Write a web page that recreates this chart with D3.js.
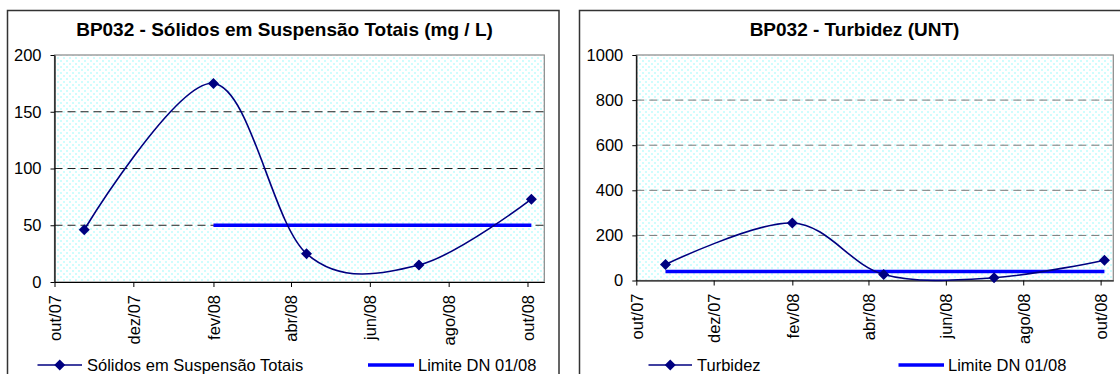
<!DOCTYPE html>
<html>
<head>
<meta charset="utf-8">
<script src="https://cdn.jsdelivr.net/npm/d3@7"></script>
<style>
  html, body { margin: 0; padding: 0; background: #fff; }
  svg { display: block; font-family: "Liberation Sans", Arial, sans-serif; }
</style>
</head>
<body>
<svg id="chart" width="1120" height="374"></svg>
<script>
// ---- data ----
const tickLabels = ["out/07", "dez/07", "fev/08", "abr/08", "jun/08", "ago/08", "out/08"];
const tickDates = ["2007-10-01", "2007-12-01", "2008-02-01", "2008-04-01", "2008-06-01", "2008-08-01", "2008-10-01"];
const sampleDates = ["2007-10-24", "2008-02-01", "2008-04-13", "2008-07-09", "2008-10-04"];
const sstValues = [46, 175, 25, 15, 73];
const sstLimit = [null, 50, 50, 50, 50];
const sstTicks = [0, 50, 100, 150, 200];
const turbValues = [71, 255, 27, 12, 90];
const turbLimit = [40, 40, 40, 40, 40];
const turbTicks = [0, 200, 400, 600, 800, 1000];

const parse = d3.utcParse("%Y-%m-%d");
const svg = d3.select("#chart");

// dotted plot background pattern
const defs = svg.append("defs");
const pat = defs.append("pattern").attr("id", "dots").attr("patternUnits", "userSpaceOnUse")
  .attr("width", 6).attr("height", 6);
pat.append("rect").attr("width", 6).attr("height", 6).attr("fill", "#ffffff");
pat.append("rect").attr("x", 0).attr("y", 0).attr("width", 2).attr("height", 2).attr("fill", "#cffdfd");
pat.append("rect").attr("x", 3).attr("y", 3).attr("width", 2).attr("height", 2).attr("fill", "#cffdfd");

function diamond(s) { return `M0,${-s}L${s},0L0,${s}L${-s},0Z`; }

function drawChart(cfg) {
  const g = svg.append("g");
  // chart frame
  g.append("rect").attr("x", cfg.frame[0]).attr("y", cfg.frame[1])
    .attr("width", cfg.frame[2]).attr("height", cfg.frame[3])
    .attr("fill", "#fff").attr("stroke", "#333").attr("stroke-width", 1.5);

  const x = d3.scaleUtc().domain([parse(tickDates[0]), parse(cfg.xMax)]).range([cfg.plot.x0, cfg.plot.x1]);
  const y = d3.scaleLinear().domain([0, cfg.yTicks[cfg.yTicks.length - 1]]).range([cfg.plot.y0, cfg.plot.y1]);

  // plot area
  g.append("rect").attr("x", cfg.plot.x0).attr("y", cfg.plot.y1)
    .attr("width", cfg.plot.x1 - cfg.plot.x0).attr("height", cfg.plot.y0 - cfg.plot.y1)
    .attr("fill", "url(#dots)").attr("stroke", "#888").attr("stroke-width", 1.2);

  // gridlines
  g.append("g").selectAll("line").data(cfg.yTicks.slice(1, -1)).join("line")
    .attr("x1", cfg.plot.x0).attr("x2", cfg.plot.x1)
    .attr("y1", d => y(d)).attr("y2", d => y(d))
    .attr("stroke", cfg.gridColor).attr("stroke-width", 1).attr("stroke-dasharray", "8,5");

  // y axis
  const yAxis = d3.axisLeft(y).tickValues(cfg.yTicks).tickFormat(d3.format("d"))
    .tickSize(4).tickSizeOuter(0).tickPadding(9);
  const ya = g.append("g").attr("transform", `translate(${cfg.plot.x0},0)`).call(yAxis);
  ya.select(".domain").attr("stroke", "#000").attr("stroke-width", 1.2);
  ya.selectAll(".tick line").attr("stroke", "#000");
  ya.selectAll(".tick text").attr("font-size", 16.5).attr("fill", "#000")
    .attr("font-family", "Liberation Sans, Arial, sans-serif");

  // x axis
  const xAxis = d3.axisBottom(x).tickValues(tickDates.map(parse))
    .tickFormat((d, i) => tickLabels[i]).tickSize(5).tickSizeOuter(0);
  const xa = g.append("g").attr("transform", `translate(0,${cfg.plot.y0})`).call(xAxis);
  xa.select(".domain").attr("stroke", "#000").attr("stroke-width", 1.2);
  xa.selectAll(".tick line").attr("stroke", "#000");
  xa.selectAll(".tick text").attr("font-size", 16.5).attr("fill", "#000")
    .attr("font-family", "Liberation Sans, Arial, sans-serif")
    .attr("text-anchor", "end").attr("dy", null)
    .attr("transform", "translate(6,13) rotate(-90)").attr("x", 0).attr("y", 0);

  const pts = sampleDates.map((d, i) => ({ date: parse(d), v: cfg.values[i], lim: cfg.limit[i] }));

  // limit line
  const limLine = d3.line().defined(d => d.lim != null).x(d => x(d.date)).y(d => y(d.lim));
  g.append("path").datum(pts).attr("d", limLine).attr("fill", "none")
    .attr("stroke", "#0000ff").attr("stroke-width", 3.5);

  // series smooth line
  const line = d3.line().x(d => x(d.date)).y(d => y(d.v)).curve(d3.curveCatmullRom.alpha(0));
  g.append("path").datum(pts).attr("d", line).attr("fill", "none")
    .attr("stroke", "#000080").attr("stroke-width", 1.6);
  g.append("g").selectAll("path").data(pts).join("path")
    .attr("transform", d => `translate(${x(d.date)},${y(d.v)})`)
    .attr("d", diamond(5.5)).attr("fill", "#000080");

  // title
  g.append("text").attr("x", cfg.titleX).attr("y", 35.5).attr("text-anchor", "middle")
    .attr("font-size", 19).attr("font-weight", "bold").attr("fill", "#000").text(cfg.title);

  // legend
  const L = cfg.legend;
  g.append("line").attr("x1", L.s0).attr("x2", L.s1).attr("y1", 365).attr("y2", 365)
    .attr("stroke", "#000080").attr("stroke-width", 1.6);
  g.append("path").attr("transform", `translate(${(L.s0 + L.s1) / 2},365)`).attr("d", diamond(5.5)).attr("fill", "#000080");
  g.append("text").attr("x", L.s1 + 5).attr("y", 371).attr("font-size", 16.5).attr("fill", "#000").text(cfg.seriesName);
  g.append("line").attr("x1", L.l0).attr("x2", L.l1).attr("y1", 365).attr("y2", 365)
    .attr("stroke", "#0000ff").attr("stroke-width", 3.5);
  g.append("text").attr("x", L.l1 + 4).attr("y", 371).attr("font-size", 16.5).attr("fill", "#000").text("Limite DN 01/08");
}

drawChart({
  frame: [7.5, 10.5, 551.5, 380],
  plot: { x0: 54.5, x1: 544.3, y0: 282, y1: 55 },
  xMax: "2008-10-14",
  yTicks: sstTicks, values: sstValues, limit: sstLimit,
  gridColor: "#222",
  title: "BP032 - Sólidos em Suspensão Totais (mg / L)", titleX: 284.5,
  seriesName: "Sólidos em Suspensão Totais",
  legend: { s0: 37.5, s1: 82, l0: 368, l1: 414 }
});

drawChart({
  frame: [579.5, 10.5, 560, 380],
  plot: { x0: 636.3, x1: 1113.3, y0: 280.5, y1: 55 },
  xMax: "2008-10-11",
  yTicks: turbTicks, values: turbValues, limit: turbLimit,
  gridColor: "#777",
  title: "BP032 - Turbidez (UNT)", titleX: 854.5,
  seriesName: "Turbidez",
  legend: { s0: 648.5, s1: 692, l0: 898.5, l1: 944 }
});
</script>
</body>
</html>
